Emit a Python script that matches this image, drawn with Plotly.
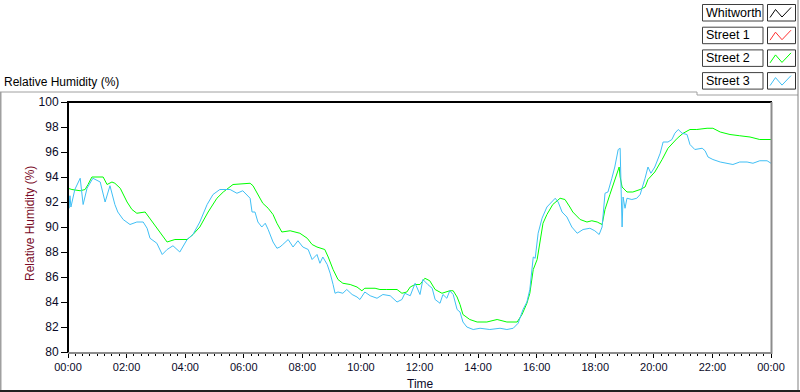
import pandas as pd
import plotly.graph_objects as go

# ---------------- data (minutes after midnight, relative humidity %) ----------------
series_names = ["Whitworth", "Street 1", "Street 2", "Street 3"]
series_colors = ["#000000", "#ff3030", "#00ff00", "#40bff5"]

whitworth_min = []
whitworth_rh = []
street1_min = []
street1_rh = []

street2_min = [0, 8, 25, 35, 41, 49, 72, 80, 90, 96, 107, 121, 131, 141, 158, 174, 188, 203, 219, 244,
               256, 270, 287, 305, 318, 338, 363, 373, 379, 387, 399, 410, 420, 428, 438, 455, 475, 490,
               500, 510, 526, 533, 543, 553, 563, 578, 592, 602, 608, 629, 639, 653, 674, 684, 694, 701,
               711, 721, 731, 741, 752, 766, 782, 789, 797, 803, 809, 823, 838, 858, 879, 899, 920, 930,
               940, 946, 953, 961, 967, 973, 981, 993, 1008, 1018, 1028, 1034, 1049, 1063, 1073, 1084,
               1094, 1100, 1110, 1120, 1129, 1131, 1135, 1145, 1157, 1172, 1182, 1188, 1202, 1217, 1229,
               1248, 1260, 1274, 1288, 1309, 1321, 1336, 1356, 1376, 1397, 1417, 1440]
street2_rh = [93.1, 93.0, 92.9, 93.0, 93.4, 94.0, 94.0, 93.4, 93.6, 93.5, 93.1, 92.0, 91.4, 91.1, 91.2,
              90.3, 89.6, 88.8, 89.0, 89.0, 89.4, 90.0, 91.2, 92.3, 92.8, 93.4, 93.5, 93.5, 93.3, 92.7,
              91.9, 91.5, 91.0, 90.3, 89.6, 89.7, 89.5, 89.1, 88.6, 88.4, 88.2, 87.6, 86.6, 85.8, 85.5,
              85.4, 85.2, 84.9, 85.1, 85.1, 85.0, 85.0, 85.0, 84.7, 84.8, 85.2, 85.4, 85.4, 85.9, 85.7,
              85.0, 84.7, 84.9, 84.9, 84.4, 83.8, 83.0, 82.6, 82.4, 82.4, 82.6, 82.4, 82.4, 83.0, 83.9,
              84.7, 86.6, 87.4, 89.0, 90.3, 91.0, 91.8, 92.3, 92.2, 91.6, 91.2, 90.6, 90.4, 90.5, 90.4,
              90.2, 91.4, 92.6, 93.8, 94.8, 94.0, 93.2, 92.8, 92.8, 93.0, 93.2, 93.8, 94.4, 95.4, 96.3,
              97.1, 97.5, 97.8, 97.8, 97.9, 97.9, 97.6, 97.4, 97.3, 97.2, 97.0, 97.0]

street3_min = [0, 2, 4, 6, 14, 25, 31, 39, 51, 66, 76, 86, 96, 102, 113, 127, 141, 154, 162, 168, 182,
               193, 203, 215, 229, 244, 256, 270, 285, 297, 311, 332, 346, 358, 373, 377, 383, 389, 397,
               404, 410, 420, 428, 434, 440, 451, 461, 471, 481, 492, 500, 510, 516, 522, 531, 537, 543,
               547, 553, 563, 571, 582, 592, 598, 608, 619, 633, 645, 660, 674, 684, 690, 701, 711, 721,
               727, 737, 746, 752, 762, 768, 776, 782, 789, 797, 803, 809, 817, 830, 844, 864, 885, 899,
               912, 922, 932, 940, 946, 953, 957, 963, 971, 981, 991, 998, 1004, 1012, 1022, 1032, 1043,
               1055, 1069, 1079, 1088, 1094, 1100, 1106, 1114, 1120, 1127, 1131, 1133, 1135, 1137, 1141,
               1145, 1155, 1165, 1172, 1182, 1188, 1194, 1202, 1213, 1219, 1229, 1237, 1243, 1250, 1258,
               1268, 1274, 1284, 1299, 1305, 1311, 1321, 1336, 1350, 1362, 1376, 1391, 1403, 1417, 1432,
               1440]
street3_rh = [93.1, 91.5, 92.5, 91.6, 93.0, 93.9, 91.8, 93.1, 93.9, 93.6, 92.0, 93.3, 91.8, 91.2, 90.6,
              90.2, 90.4, 90.4, 89.9, 89.1, 88.7, 87.8, 88.2, 88.5, 88.0, 89.0, 89.4, 90.4, 91.8, 92.6,
              93.0, 93.0, 92.7, 92.9, 92.3, 91.2, 91.2, 90.4, 90.0, 90.3, 89.8, 88.8, 88.3, 88.4, 88.6,
              89.0, 88.4, 88.9, 88.4, 88.2, 87.4, 87.8, 87.1, 87.6, 87.0, 86.3, 85.4, 84.7, 84.8, 84.7,
              85.0, 84.6, 84.4, 84.2, 84.8, 84.5, 84.3, 84.6, 84.5, 84.0, 84.2, 84.7, 84.5, 85.5, 84.6,
              85.8, 85.4, 85.1, 84.2, 83.9, 84.6, 84.3, 84.9, 84.6, 83.4, 83.2, 82.4, 82.0, 81.8, 81.9,
              81.8, 81.9, 81.8, 81.9, 82.3, 83.4, 84.0, 85.0, 87.6, 87.5, 89.5, 90.7, 91.6, 92.0, 92.3,
              92.0, 91.2, 90.8, 90.0, 89.5, 89.8, 89.9, 89.7, 89.4, 90.0, 92.7, 92.8, 93.9, 94.8, 96.2,
              96.3, 93.0, 90.0, 92.4, 91.5, 92.3, 92.2, 92.3, 92.6, 93.9, 94.8, 94.3, 94.8, 95.9, 96.8,
              96.8, 97.0, 97.5, 97.8, 97.5, 97.4, 96.6, 96.2, 96.3, 96.1, 95.6, 95.4, 95.2, 95.1, 95.0,
              95.2, 95.2, 95.1, 95.3, 95.3, 95.1]

y_ticks = [80, 82, 84, 86, 88, 90, 92, 94, 96, 98, 100]
graph_caption = "Relative Humidity (%)"
y_title = "Relative Humidity (%)"
x_title = "Time"

# ---------------- figure ----------------
W, H = 800, 392
L, R, T, B = 68, 29, 102, 40
PW, PH = W - L - R, H - T - B
base = pd.Timestamp("2000-01-01")


def to_time(mins):
    return [base + pd.Timedelta(minutes=m) for m in mins]


def px(x):  # pixel x -> paper
    return (x - L) / PW


def py(y):  # pixel y -> paper
    return (H - B - y) / PH


FONT = "Liberation Sans"
fig = go.Figure()
data = [(whitworth_min, whitworth_rh), (street1_min, street1_rh),
        (street2_min, street2_rh), (street3_min, street3_rh)]
for name, color, (mins, vals) in zip(series_names, series_colors, data):
    fig.add_trace(go.Scatter(x=to_time(mins), y=vals, mode="lines", name=name,
                             line=dict(color=color, width=1), showlegend=False))

fig.update_layout(
    width=W, height=H, margin=dict(l=L, r=R, t=T, b=B),
    paper_bgcolor="white", plot_bgcolor="white",
    font=dict(family=FONT, size=11, color="#0a0a28"),
    xaxis=dict(type="date", range=[base, base + pd.Timedelta(days=1)],
               tickformat="%H:%M", dtick=7200000, tick0=base,
               ticks="outside", ticklen=5, tickwidth=1, tickcolor="black",
               minor=dict(dtick=900000, ticks="outside", ticklen=3, tickcolor="black", showgrid=False),
               showgrid=False, zeroline=False, showline=False, tickfont=dict(size=11)),
    yaxis=dict(range=[80, 100], tickvals=y_ticks, ticks="outside", ticklen=6, tickwidth=1,
               tickcolor="black", showgrid=False, zeroline=False, showline=False,
               tickfont=dict(size=12)),
    showlegend=False,
)

shapes = []


def line(x0, y0, x1, y1, color, width=1):
    shapes.append(dict(type="line", xref="paper", yref="paper", x0=px(x0), y0=py(y0),
                       x1=px(x1), y1=py(y1), line=dict(color=color, width=width)))


# outer frame
line(0, 92, 697, 92, "#a0a0a0", 1)
line(697, 92, 697, 95, "#a0a0a0", 1)
line(697, 95, 798, 95, "#a0a0a0", 1)
line(798, 0, 798, 392, "#808080", 1)
line(0.5, 92, 0.5, 392, "#a0a0a0", 2)
line(0, 391, 800, 391, "#202020", 2)
# plot frame
line(67, 102, 772, 102, "black", 2)
line(68, 101, 68, 353, "black", 2)
line(68, 353, 772, 353, "#8c8c8c", 2)
line(771.5, 102, 771.5, 354, "#8c8c8c", 2)

annotations = [
    dict(text=graph_caption, xref="paper", yref="paper", x=px(2), y=py(82), xanchor="left",
         yanchor="middle", showarrow=False, font=dict(size=12, color="black")),
    dict(text=y_title, xref="paper", yref="paper", x=px(30), y=py(224), textangle=-90,
         xanchor="center", yanchor="middle", showarrow=False, font=dict(size=12, color="#7a0c28")),
    dict(text=x_title, xref="paper", yref="paper", x=px(420), y=py(384), xanchor="center",
         yanchor="middle", showarrow=False, font=dict(size=12, color="#0a0a28")),
]

# legend (custom LabVIEW-style plot legend)
for i, (name, color) in enumerate(zip(series_names, series_colors)):
    top = 4.5 + i * 22.7
    bot = top + 16.5
    shapes.append(dict(type="rect", xref="paper", yref="paper", x0=px(702.5), x1=px(763),
                       y0=py(bot), y1=py(top), line=dict(color="#404040", width=1),
                       fillcolor="white"))
    shapes.append(dict(type="rect", xref="paper", yref="paper", x0=px(767.5), x1=px(795.5),
                       y0=py(bot), y1=py(top), line=dict(color="#303030", width=1),
                       fillcolor="white"))
    zig = [(770, top + 13), (775.5, top + 5), (782, top + 12.5), (791, top + 3)]
    path = "M " + " L ".join(f"{px(a)},{py(b)}" for a, b in zig)
    shapes.append(dict(type="path", xref="paper", yref="paper", path=path,
                       line=dict(color=color, width=1)))
    annotations.append(dict(text=name, xref="paper", yref="paper", x=px(704), y=py((top + bot) / 2),
                            xanchor="left", yanchor="middle", showarrow=False,
                            font=dict(size=12.5, color="black")))

fig.update_layout(shapes=shapes, annotations=annotations)
fig.write_html("out.html", config={"displayModeBar": False},
               post_script="document.body.style.margin='0';document.body.style.overflow='hidden';")
